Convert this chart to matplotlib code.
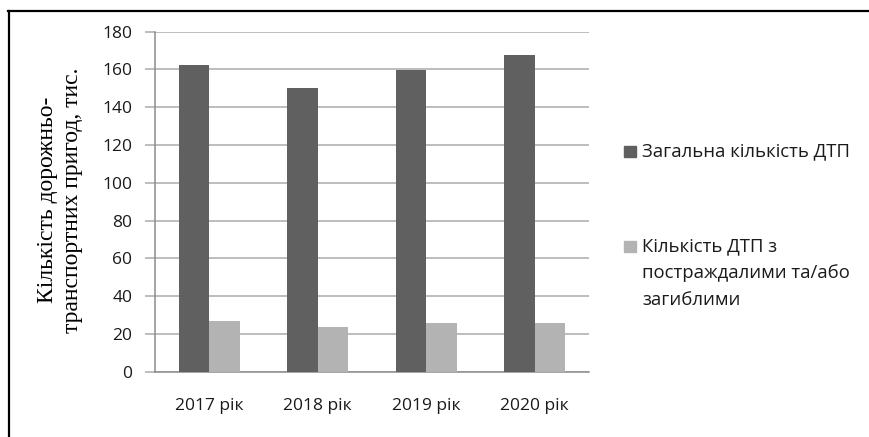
import matplotlib.pyplot as plt
from matplotlib.lines import Line2D
from matplotlib.patches import Rectangle

# Road accidents in Ukraine, thousands
years = ["2017 рік", "2018 рік", "2019 рік", "2020 рік"]
total = [162.3, 150.0, 159.8, 167.9]
injured = [27.1, 23.9, 26.0, 26.0]
series_names = ["Загальна кількість ДТП",
                "Кількість ДТП з\nпостраждалими та/або\nзагиблими"]
series_colors = ["#606060", "#b3b3b3"]
y_ticks = [0, 20, 40, 60, 80, 100, 120, 140, 160, 180]

W, H = 870, 437
fig = plt.figure(figsize=(W / 100, H / 100), dpi=100)
ax = fig.add_axes([155 / W, 1 - 371.7 / H, (589 - 155) / W, (371.7 - 31.7) / H])

width = 0.283
pos = range(len(years))
ax.bar([p - width / 2 for p in pos], total, width, color=series_colors[0], zorder=3)
ax.bar([p + width / 2 for p in pos], injured, width, color=series_colors[1], zorder=3)

ax.set_xlim(-0.5, len(years) - 0.5)
ax.set_ylim(0, 180)
ax.set_yticks(y_ticks)
ax.set_xticks(list(pos))
ax.set_xticklabels(years)

for lbl in ax.get_xticklabels() + ax.get_yticklabels():
    lbl.set_fontfamily("Open Sans")
    lbl.set_fontsize(12.5)
    lbl.set_color("#1a1a1a")

ax.yaxis.grid(True, color="#ababab", linewidth=1.1, zorder=0)
ax.tick_params(axis="y", length=7.2, width=1.1, color="#ababab", pad=9)
ax.tick_params(axis="x", length=0, pad=19)
for side in ["top", "right"]:
    ax.spines[side].set_visible(False)
for side in ["left", "bottom"]:
    ax.spines[side].set_color("#8c8c8c")
    ax.spines[side].set_linewidth(1.1)

fig.text(60 / W, 1 - 200 / H, "Кількість дорожньо-\nтранспортних пригод, тис.",
         rotation=90, ha="center", va="center", multialignment="center",
         family="Liberation Serif", fontsize=17, linespacing=1.25)

# legend on the right, square marker next to the first text line
legend_baselines = [156, 251]
line_step = 27
for name, color, base in zip(series_names, series_colors, legend_baselines):
    fig.add_artist(Rectangle((624 / W, 1 - 156.5 / H + (156 - base) / H), 12 / W, 11 / H,
                             transform=fig.transFigure, color=color))
    for k, line in enumerate(name.split("\n")):
        fig.text(642 / W, 1 - (base + k * line_step) / H, line, ha="left",
                 va="baseline", family="Open Sans", fontsize=13.3, color="#1a1a1a")

# page frame (top and left edges)
fig.add_artist(Line2D([8 / W, 1], [1 - 11 / H, 1 - 11 / H], color="black",
                      linewidth=1.6, transform=fig.transFigure))
fig.add_artist(Line2D([9 / W, 9 / W], [0, 1 - 11 / H], color="black",
                      linewidth=1.6, transform=fig.transFigure))

fig.savefig("out.png", dpi=100)
